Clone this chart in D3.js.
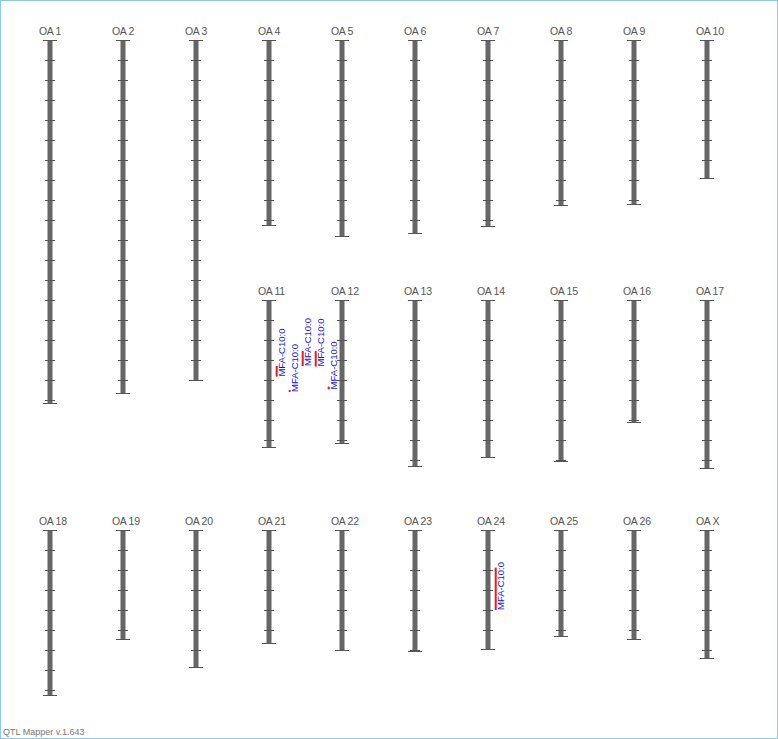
<!DOCTYPE html>
<html><head><meta charset="utf-8">
<script src="https://cdn.jsdelivr.net/npm/d3@7"></script>
<style>html,body{margin:0;padding:0;background:#fff;}svg{display:block;}</style>
</head><body>
<svg id="c" width="778" height="739"></svg>
<script>
// chromosome names per row
const row1Names = ["OA 1","OA 2","OA 3","OA 4","OA 5","OA 6","OA 7","OA 8","OA 9","OA 10"];
const row2Names = ["OA 11","OA 12","OA 13","OA 14","OA 15","OA 16","OA 17"];
const row3Names = ["OA 18","OA 19","OA 20","OA 21","OA 22","OA 23","OA 24","OA 25","OA 26","OA X"];
// chromosome lengths (cM)
const row1Lengths = [181.5,176.5,170,92.5,98,96.5,93,82.5,82,69];
const row2Lengths = [73.5,71.5,83,78.5,80.5,61,84];
const row3Lengths = [82.5,54.5,68.5,56.5,60,60.5,59.5,53,54.5,64];
// QTL intervals
const qtlChrom = ["OA 11","OA 11","OA 11","OA 11","OA 11","OA 24"];
const qtlStart = [33,45,25.5,25.5,43.3,18.8];
const qtlEnd   = [38.3,46,33,33.3,44.7,40];
const qtlLabel = ["MFA-C10:0","MFA-C10:0","MFA-C10:0","MFA-C10:0","MFA-C10:0","MFA-C10:0"];
const tickStep = 10;

const svg = d3.select("#c");
svg.append("rect").attr("x",0.5).attr("y",0.5).attr("width",777).attr("height",738)
  .attr("fill","#fff").attr("stroke","#8ec9ec").attr("stroke-width",1);

const colX = d3.scalePoint().domain(d3.range(10)).range([50, 50+73*9]);
const rowTop = [40, 300, 530];
const cm = d3.scaleLinear().domain([0,1]).range([0,2]);

const chroms = [];
row1Names.forEach((n,i)=>chroms.push({name:n,len:row1Lengths[i],col:i,row:0}));
row2Names.forEach((n,i)=>chroms.push({name:n,len:row2Lengths[i],col:i+3,row:1}));
row3Names.forEach((n,i)=>chroms.push({name:n,len:row3Lengths[i],col:i,row:2}));

const g = svg.selectAll("g.chr").data(chroms).join("g").attr("class","chr")
  .attr("transform",d=>`translate(${colX(d.col)},${rowTop[d.row]})`);

g.append("text").attr("x",-11).attr("y",-5).attr("text-anchor","start")
  .attr("font-family","Arial, Liberation Sans, sans-serif").attr("font-size",10.5)
  .attr("letter-spacing",-0.3)
  .attr("fill","#555").text(d=>d.name);

g.append("rect").attr("x",-2.5).attr("y",0).attr("width",5).attr("height",d=>cm(d.len)).attr("fill","#666");

g.each(function(d){
  const el = d3.select(this);
  const ticks = d3.range(tickStep, d.len, tickStep);
  el.selectAll("line.t").data(ticks).join("line").attr("class","t")
    .attr("x1",-5).attr("x2",5).attr("y1",t=>Math.round(cm(t))+0.5).attr("y2",t=>Math.round(cm(t))+0.5)
    .attr("stroke","#555").attr("stroke-width",1);
  el.selectAll("line.cap").data([0,d.len]).join("line").attr("class","cap")
    .attr("x1",-7).attr("x2",7).attr("y1",t=>Math.round(cm(t))+0.5).attr("y2",t=>Math.round(cm(t))+0.5)
    .attr("stroke","#555").attr("stroke-width",1);
});

// QTLs, stacked to the right of their chromosome
const counts = {};
const qtls = qtlChrom.map((c,i)=>{
  const k = counts[c]||0; counts[c]=k+1;
  const ch = chroms.find(d=>d.name===c);
  return {ch, s:qtlStart[i], e:qtlEnd[i], label:qtlLabel[i], k};
});
const qg = svg.selectAll("g.q").data(qtls).join("g").attr("class","q")
  .attr("transform",d=>`translate(${colX(d.ch.col)+7.7+13*d.k},${rowTop[d.ch.row]})`);
qg.append("rect").attr("x",-1).attr("width",2).attr("y",d=>cm(d.s)).attr("height",d=>Math.max(1.5,cm(d.e)-cm(d.s)))
  .attr("fill","#f01818");
qg.append("text").attr("transform",d=>`translate(8.5,${cm(d.e)}) rotate(-90)`)
  .attr("font-family","Arial, Liberation Sans, sans-serif").attr("font-size",9.5)
  .attr("fill","#1010e8").text(d=>d.label);

svg.append("text").attr("x",3).attr("y",735).attr("font-family","Arial, Liberation Sans, sans-serif")
  .attr("font-size",9).attr("fill","#777").text("QTL Mapper v.1.643");
</script>
</body></html>
